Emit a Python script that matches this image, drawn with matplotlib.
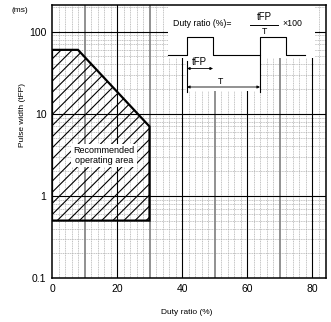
import numpy as np
import matplotlib
matplotlib.use("Agg")
import matplotlib.pyplot as plt
from matplotlib.patches import Polygon, Rectangle

plt.rcParams['font.family'] = ['Liberation Sans', 'DejaVu Sans']

# Recommended operating area boundary (duty ratio %, pulse width ms)
area_duty = [0, 0, 8, 30, 30]
area_pulse = [0.5, 60, 60, 7, 0.5]

x_ticks = [0, 20, 40, 60, 80]
y_ticks = [0.1, 1, 10, 100]
y_tick_labels = ["0.1", "1", "10", "100"]

fig = plt.figure(figsize=(3.31, 3.22), dpi=100)
ax = fig.add_axes([52/331, (322-278)/322, 274/331, 273/322])
ax.set_yscale("log")
ax.set_xlim(0, 84.3)
ax.set_ylim(0.1, 211)

# grid: minor dashed
for x in np.arange(2, 84, 2):
    if x % 10 != 0:
        ax.axvline(x, color="#aaaaaa", lw=0.5, ls=(0, (1.5, 1)), zorder=1)
for dec in [0.1, 1, 10, 100]:
    for m in range(2, 10):
        if dec * m < 211:
            ax.axhline(dec * m, color="#aaaaaa", lw=0.5, ls=(0, (1.5, 1)), zorder=1)
# major grid
for x in [10, 30, 50, 70]:
    ax.axvline(x, color="#888888", lw=1.3, zorder=2)
for x in [20, 40, 60, 80]:
    ax.axvline(x, color="black", lw=0.8, zorder=2)
for y in [1, 10, 100]:
    ax.axhline(y, color="black", lw=0.8, zorder=2)

# hatched area
plt.rcParams['hatch.linewidth'] = 0.8
poly = Polygon(np.column_stack([area_duty, area_pulse]), closed=True,
               facecolor="none", edgecolor="black", hatch="///", lw=0, zorder=3)
ax.add_patch(poly)
edge = Polygon(np.column_stack([area_duty, area_pulse]), closed=True,
               facecolor="none", edgecolor="black", lw=1.6, zorder=4)
ax.add_patch(edge)

ax.text(16, 3.1, "Recommended\noperating area", ha="center", va="center",
        fontsize=6.5, linespacing=1.2, zorder=5,
        bbox=dict(facecolor="white", edgecolor="none", pad=1.5))

# inset formula and waveform (axes fraction coords from pixels)
def fx(px):
    return (px - 52) / 274.0

def fy(py):
    return (278 - py) / 273.0

T = ax.transAxes
ax.add_patch(Rectangle((fx(168), fy(58)), fx(315) - fx(168), fy(4) - fy(58),
                       transform=T, facecolor="white", edgecolor="none", zorder=5))
ax.add_patch(Rectangle((fx(186), fy(91)), fx(261) - fx(186), fy(58) - fy(91),
                       transform=T, facecolor="white", edgecolor="none", zorder=5))

ax.text(fx(173), fy(23), "Duty ratio (%)=", transform=T, fontsize=6.3,
        ha="left", va="center", zorder=6)
ax.text(fx(264), fy(17), "tFP", transform=T, fontsize=7, ha="center",
        va="center", zorder=6)
ax.plot([fx(250), fx(278)], [fy(24.5), fy(24.5)], transform=T, color="black",
        lw=0.7, zorder=6)
ax.text(fx(265), fy(32), "T", transform=T, fontsize=6.3, ha="center",
        va="center", zorder=6)
ax.text(fx(282), fy(23), "×100", transform=T, fontsize=6.3, ha="left",
        va="center", zorder=6)

wave_x = [168, 187, 187, 213, 213, 260, 260, 286, 286, 305]
wave_y = [55, 55, 37, 37, 55, 55, 37, 37, 55, 55]
ax.plot([fx(p) for p in wave_x], [fy(p) for p in wave_y], transform=T,
        color="black", lw=0.8, zorder=6)
ax.plot([fx(187), fx(187)], [fy(61), fy(92)], transform=T, color="black",
        lw=0.8, zorder=6)
ax.plot([fx(260), fx(260)], [fy(55), fy(92)], transform=T, color="black",
        lw=0.8, zorder=6)
ax.annotate("", xy=(fx(213), fy(68.5)), xytext=(fx(187), fy(68.5)),
            xycoords=T, textcoords=T, zorder=6,
            arrowprops=dict(arrowstyle="<|-|>", lw=0.6, color="black",
                            mutation_scale=4, shrinkA=0, shrinkB=0))
ax.annotate("", xy=(fx(260), fy(87)), xytext=(fx(187), fy(87)),
            xycoords=T, textcoords=T, zorder=6,
            arrowprops=dict(arrowstyle="<|-|>", lw=0.6, color="black",
                            mutation_scale=4, shrinkA=0, shrinkB=0))
ax.text(fx(199), fy(62), "tFP", transform=T, fontsize=7, ha="center",
        va="center", zorder=6)
ax.text(fx(221), fy(81), "T", transform=T, fontsize=6.3, ha="center",
        va="center", zorder=6)

ax.set_xticks(x_ticks)
ax.set_yticks(y_ticks)
ax.set_yticklabels(y_tick_labels)
ax.yaxis.set_minor_locator(matplotlib.ticker.NullLocator())
ax.tick_params(length=0, labelsize=7.5, pad=4)
for s in ax.spines.values():
    s.set_linewidth(1.1)
    s.set_zorder(7)

ax.text(fx(20), fy(10), "(ms)", transform=T, fontsize=6, ha="center",
        va="center")
ax.text(fx(23), fy(115), "Pulse width (tFP)", transform=T, fontsize=6,
        rotation=90, ha="center", va="center")
ax.text(fx(187), fy(313), "Duty ratio (%)", transform=T, fontsize=6,
        ha="center", va="center")

fig.savefig("out.png", dpi=100)
